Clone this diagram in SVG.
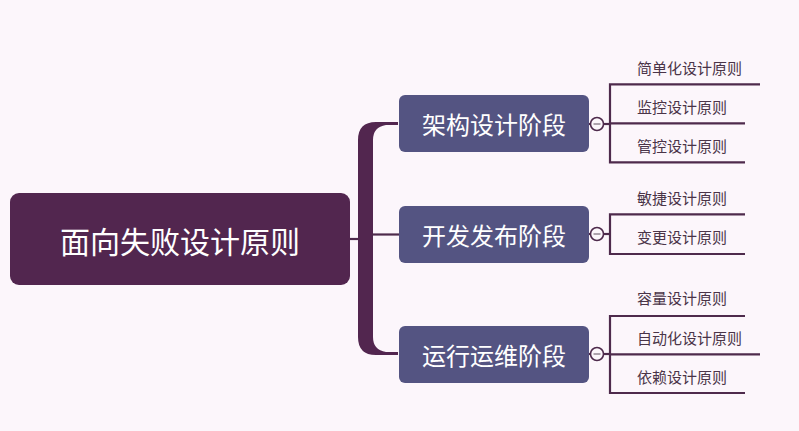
<svg xmlns="http://www.w3.org/2000/svg" width="799" height="431" viewBox="0 0 799 431">
<style>
.root{fill:#52264f}
.phase{fill:#545482}
.t{font-family:"Noto Sans CJK SC","Noto Sans",sans-serif;dominant-baseline:central;text-anchor:middle;fill:#ffffff}
.leaf{font-family:"Noto Sans CJK SC","Noto Sans",sans-serif;dominant-baseline:central;font-size:15px;fill:#4a3448}
.ln{stroke:#4e2a4c;stroke-width:2.2;fill:none}
.fold{fill:#fcf6fb;stroke:#4e2a4c;stroke-width:1.6}
.minus{stroke:#9a8f9a;stroke-width:1.6}
</style>
<rect width="799" height="431" fill="#fcf6fb"/>
<g id="connectors">
  <line class="ln" x1="350" y1="239" x2="359" y2="239"/>
  <path fill="#52264f" d="M398,122 L376,122 Q358,122 358,140 L358,337 Q358,355 376,355 L398,355 L398,352 L386,352 Q373,350 373,337 L373,140 Q373,127 386,125 L398,125 Z"/>
  <line class="ln" x1="372" y1="234.5" x2="400" y2="234.5"/>
  <line class="ln" x1="589" y1="124" x2="610" y2="124"/>
  <path class="ln" d="M760,84.3 L610,84.3 L610,162.3 L745,162.3 M610,123.3 L745,123.3"/>
  <line class="ln" x1="589" y1="234" x2="610" y2="234"/>
  <path class="ln" d="M745,214.3 L610,214.3 L610,254 L745,254"/>
  <line class="ln" x1="589" y1="354" x2="610" y2="354"/>
  <path class="ln" d="M745,316 L610,316 L610,393 L745,393 M610,354.3 L760,354.3"/>
</g>
<g id="root">
  <rect class="root" x="10" y="193" width="340" height="92" rx="9"/>
  <text class="t" x="180" y="239.5" font-size="30">面向失败设计原则</text>
</g>
<g id="phase1">
  <rect class="phase" x="399" y="95" width="190" height="57" rx="6"/>
  <text class="t" x="494" y="123.5" font-size="24">架构设计阶段</text>
  <circle class="fold" cx="597" cy="124" r="6.5"/>
  <line class="minus" x1="593.5" y1="124" x2="600.5" y2="124"/>
</g>
<g id="phase2">
  <rect class="phase" x="399" y="206" width="190" height="57" rx="6"/>
  <text class="t" x="494" y="234.5" font-size="24">开发发布阶段</text>
  <circle class="fold" cx="597" cy="234" r="6.5"/>
  <line class="minus" x1="593.5" y1="234" x2="600.5" y2="234"/>
</g>
<g id="phase3">
  <rect class="phase" x="399" y="326" width="190" height="57" rx="6"/>
  <text class="t" x="494" y="354.5" font-size="24">运行运维阶段</text>
  <circle class="fold" cx="597" cy="354" r="6.5"/>
  <line class="minus" x1="593.5" y1="354" x2="600.5" y2="354"/>
</g>
<g id="leaf1"><text class="leaf" x="637" y="67.5">简单化设计原则</text></g>
<g id="leaf2"><text class="leaf" x="637" y="106.5">监控设计原则</text></g>
<g id="leaf3"><text class="leaf" x="637" y="145.5">管控设计原则</text></g>
<g id="leaf4"><text class="leaf" x="637" y="197.5">敏捷设计原则</text></g>
<g id="leaf5"><text class="leaf" x="637" y="236.5">变更设计原则</text></g>
<g id="leaf6"><text class="leaf" x="637" y="297.5">容量设计原则</text></g>
<g id="leaf7"><text class="leaf" x="637" y="337.5">自动化设计原则</text></g>
<g id="leaf8"><text class="leaf" x="637" y="376.5">依赖设计原则</text></g>
</svg>
